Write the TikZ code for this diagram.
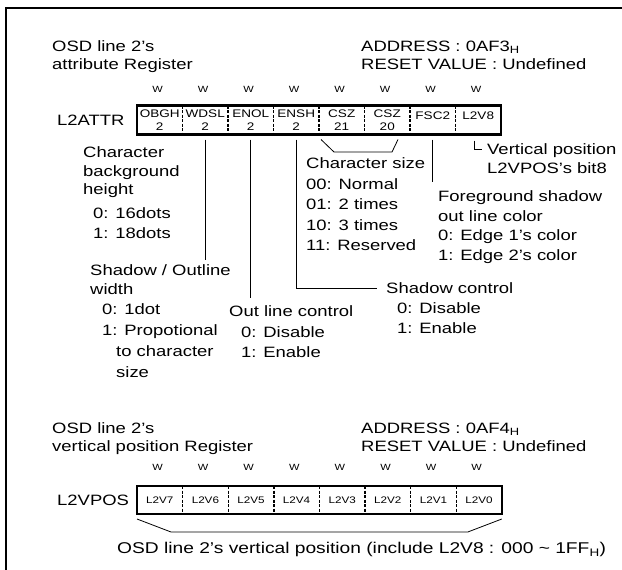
\documentclass[tikz,border=0pt]{standalone}
\usepackage{fontspec}
\setmainfont[FakeStretch=1.23]{Liberation Sans}
\usetikzlibrary{positioning}
\tikzset{
    bigtxt/.style={font=\fontsize{15}{20}\selectfont, inner sep=0pt, align=left, anchor=north west},
    headtxt/.style={bigtxt, font=\fontsize{15}{18}\selectfont},
    wmark/.style={font=\fontsize{9}{10}\selectfont, inner sep=0pt},
    field/.style={minimum width=45.5pt, minimum height=29pt, inner sep=0pt, outer sep=0pt, align=center, font=\fontsize{11}{13}\selectfont},
    vfield/.style={field, minimum width=45.6pt, minimum height=28pt, font=\fontsize{9.5}{10}\selectfont},
    regbox/.style={draw, line width=2.4pt},
    sep/.style={dash pattern=on 3pt off 1.5pt, line width=1.4pt},
    leader/.style={draw, line width=0.8pt}
}

\begin{document}
\begin{tikzpicture}[x=1pt, y=-1pt]
\useasboundingbox (0,0) rectangle (622,570);

% outer frame
\draw[line width=1.8pt] (6,570) -- (6,8) -- (622,8);

% attribute register
\node[headtxt] (attrhead) at (52,40.5) {OSD line 2’s\\attribute Register};
\node[headtxt] (attraddr) at (361,40.5) {ADDRESS : 0AF3\textsubscript{H}\\RESET VALUE : Undefined};
\foreach \i in {0,...,7}
    \node[wmark] (wa\i) at (157.5+45.5*\i,89) {W};
\node[bigtxt, anchor=west] (attrname) at (57,120) {L2ATTR};

\node[field] (obgh) at (159.75,120) {OBGH\\2};
\node[field, right=0pt of obgh] (wdsl) {WDSL\\2};
\node[field, right=0pt of wdsl] (enol) {ENOL\\2};
\node[field, right=0pt of enol] (ensh) {ENSH\\2};
\node[field, right=0pt of ensh] (csza) {CSZ\\21};
\node[field, right=0pt of csza] (cszb) {CSZ\\20};
\node[field, text depth=8pt, right=0pt of cszb] (fsc) {FSC2};
\node[field, text depth=8pt, right=0pt of fsc] (l2v8) {L2V8};
\draw[regbox] (obgh.north west) rectangle (l2v8.south east);
\foreach \f in {obgh,wdsl,enol,ensh,csza,cszb,fsc}
    \draw[sep] (\f.north east) -- (\f.south east);

% bit descriptions
\node[bigtxt, font=\fontsize{15}{18.5}\selectfont] (obghnote) at (83,146.5) {Character\\background\\height};
\node[bigtxt] (obghval) at (93,207.5) {0: 16dots\\1: 18dots};
\node[bigtxt, font=\fontsize{15}{19}\selectfont] (wdslnote) at (90,264.5) {Shadow / Outline\\width};
\node[bigtxt, font=\fontsize{15}{21}\selectfont] (wdslval) at (102,303.5) {0: 1dot\\1: Propotional\\\hspace*{14pt}to character\\\hspace*{14pt}size};
\node[bigtxt, font=\fontsize{15}{20.5}\selectfont] (enolnote) at (229,305.5) {Out line control\\\hspace*{12pt}0: Disable\\\hspace*{12pt}1: Enable};
\node[bigtxt] (enshnote) at (386,282.5) {Shadow control\\\hspace*{11pt}0: Disable\\\hspace*{11pt}1: Enable};
\node[bigtxt, font=\fontsize{15}{20.5}\selectfont] (csznote) at (306,157.5) {Character size\\00: Normal\\01: 2 times\\10: 3 times\\11: Reserved};
\node[bigtxt, font=\fontsize{15}{19.7}\selectfont] (fscnote) at (438,190.5) {Foreground shadow\\out line color\\0: Edge 1’s color\\1: Edge 2’s color};
\node[bigtxt, font=\fontsize{15}{18.5}\selectfont] (vposnote) at (487,143.5) {Vertical position\\L2VPOS’s bit8};

\draw[leader] ([yshift=-5pt]wdsl.south) -- ([yshift=4.5pt]wdsl.south |- wdslnote.north);
\draw[leader] ([yshift=-5pt]enol.south) -- ([yshift=7.5pt]enol.south |- enolnote.north);
\draw[leader] ([yshift=-5pt]ensh.south) |- ([xshift=-9pt, yshift=-5.5pt]enshnote.north west);
\draw[leader] ([yshift=-5pt]fsc.south) -- ([yshift=8.5pt]fsc.south |- fscnote.north);
\draw[leader] ([xshift=2pt, yshift=-5pt]csza.south west) -- ([xshift=15pt, yshift=-17.5pt]csza.south west)
    -- ([xshift=-18pt, yshift=-17.5pt]cszb.south east) -- ([xshift=-12pt, yshift=-5pt]cszb.south east);
\draw[line width=0.6pt] ([xshift=-4pt, yshift=-6pt]l2v8.south) |- ([xshift=-5pt, yshift=-6pt]vposnote.north west);

% vertical position register
\node[headtxt] (vposhead) at (52,422.5) {OSD line 2’s\\vertical position Register};
\node[headtxt] (vposaddr) at (361,422.5) {ADDRESS : 0AF4\textsubscript{H}\\RESET VALUE : Undefined};
\foreach \i in {0,...,7}
    \node[wmark] (wb\i) at (157.5+45.6*\i,467) {W};
\node[bigtxt, anchor=west] (vposname) at (57,500) {L2VPOS};

\foreach \i [evaluate=\i as \b using int(7-\i)] in {0,...,7}
    \node[vfield] (v\i) at (159.8+45.6*\i,500) {L2V\b};
\draw[regbox] (v0.north west) rectangle (v7.south east);
\foreach \i in {0,...,6}
    \draw[sep] (v\i.north east) -- (v\i.south east);

\node[bigtxt, font=\fontsize{15.6}{20}\selectfont] (vposnote2) at (117,542) {OSD line 2’s vertical position (include L2V8 : 000 \textasciitilde{} 1FF\textsubscript{H})};
\draw[leader] ([yshift=-5pt]v0.south west) -- ([xshift=34pt, yshift=-18pt]v0.south west)
    -- ([xshift=-34pt, yshift=-18pt]v7.south east) -- ([yshift=-5pt]v7.south east);
\end{tikzpicture}
\end{document}
